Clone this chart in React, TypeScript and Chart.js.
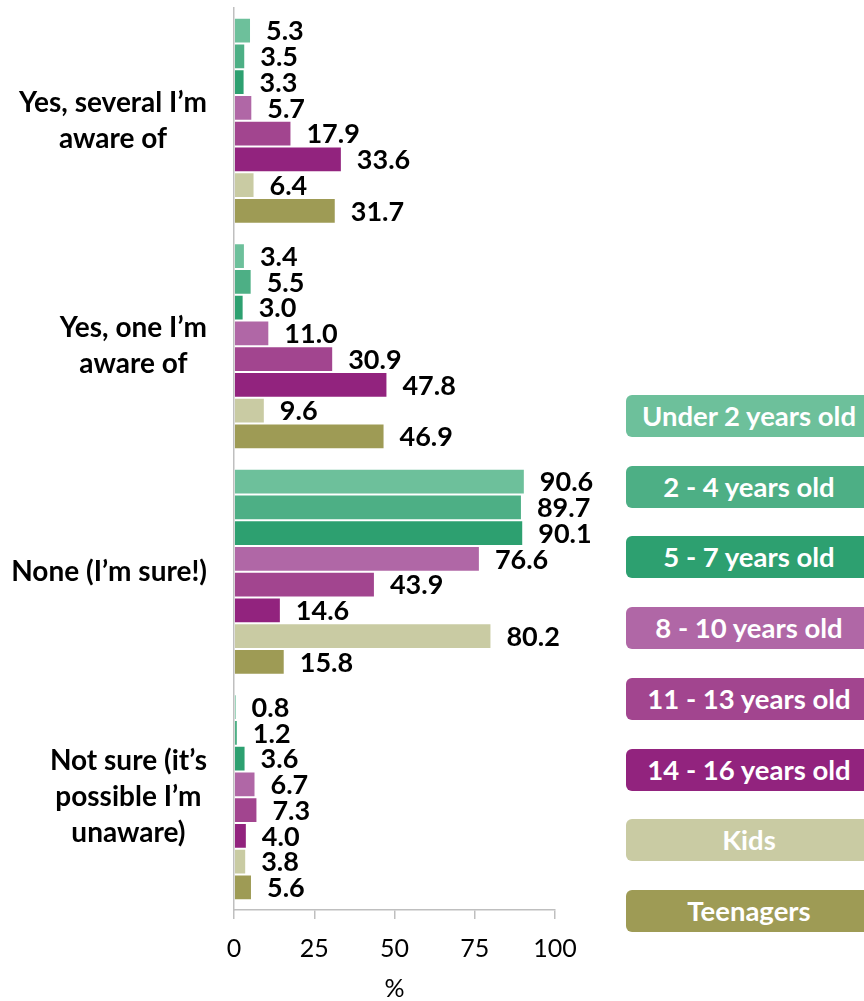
import React, { useEffect, useRef } from "react";
import { Chart, registerables } from "chart.js";

Chart.register(...registerables);

const categories: string[][] = [
  ["Yes, several I\u2019m", "aware of"],
  ["Yes, one I\u2019m", "aware of"],
  ["None (I\u2019m sure!)"],
  ["Not sure (it\u2019s", "possible I\u2019m", "unaware)"],
];

const seriesNames = [
  "Under 2 years old",
  "2 - 4 years old",
  "5 - 7 years old",
  "8 - 10 years old",
  "11 - 13 years old",
  "14 - 16 years old",
  "Kids",
  "Teenagers",
];

const under2 = [5.3, 3.4, 90.6, 0.8];
const age2to4 = [3.5, 5.5, 89.7, 1.2];
const age5to7 = [3.3, 3.0, 90.1, 3.6];
const age8to10 = [5.7, 11.0, 76.6, 6.7];
const age11to13 = [17.9, 30.9, 43.9, 7.3];
const age14to16 = [33.6, 47.8, 14.6, 4.0];
const kids = [6.4, 9.6, 80.2, 3.8];
const teenagers = [31.7, 46.9, 15.8, 5.6];

const seriesValues = [under2, age2to4, age5to7, age8to10, age11to13, age14to16, kids, teenagers];

const colors = ["#6DC09B", "#4DAF85", "#2DA070", "#B067A6", "#A2458F", "#92237E", "#C9CBA3", "#9E9B55"];

const xTicks = [0, 25, 50, 75, 100];
const axisTitle = "%";

const FONT = "Lato, 'Open Sans', sans-serif";

export default function App() {
  const canvasRef = useRef<HTMLCanvasElement | null>(null);

  useEffect(() => {
    document.body.style.margin = "0";
    const canvas = canvasRef.current;
    if (!canvas) return;

    const valueLabels = {
      id: "valueLabels",
      afterDatasetsDraw(chart: any) {
        const ctx = chart.ctx;
        ctx.save();
        ctx.font = `bold 27px ${FONT}`;
        ctx.fillStyle = "#000";
        ctx.textAlign = "left";
        ctx.textBaseline = "middle";
        chart.data.datasets.forEach((ds: any, di: number) => {
          const meta = chart.getDatasetMeta(di);
          meta.data.forEach((el: any, i: number) => {
            ctx.fillText(Number(ds.data[i]).toFixed(1), el.x + 15, el.y + 1);
          });
        });
        ctx.restore();
      },
    };

    const catLabels = {
      id: "catLabels",
      afterDraw(chart: any) {
        const ctx = chart.ctx;
        const yScale = chart.scales.y;
        ctx.save();
        ctx.font = `bold 28px ${FONT}`;
        ctx.fillStyle = "#000";
        ctx.textAlign = "center";
        ctx.textBaseline = "middle";
        const right = 207;
        const lh = 36;
        categories.forEach((lines, i) => {
          const cy = yScale.getPixelForValue(i);
          const w = Math.max(...lines.map((l) => ctx.measureText(l).width));
          const cx = right - w / 2;
          const y0 = cy - ((lines.length - 1) * lh) / 2;
          lines.forEach((l, k) => ctx.fillText(l, cx, y0 + k * lh));
        });
        ctx.restore();
      },
    };

    const chart = new Chart(canvas, {
      type: "bar",
      data: {
        labels: categories.map((c) => c.join(" ")),
        datasets: seriesNames.map((name, i) => ({
          label: name,
          data: seriesValues[i],
          backgroundColor: colors[i],
          borderColor: "rgba(255,255,255,0.45)",
          borderWidth: 1,
          barPercentage: 1,
          categoryPercentage: 0.913,
        })),
      },
      options: {
        indexAxis: "y",
        responsive: false,
        animation: false,
        layout: { padding: { left: 0, right: 45, top: 8, bottom: 0 } },
        plugins: {
          legend: { display: false },
          tooltip: { enabled: false },
        },
        scales: {
          y: {
            type: "category",
            grid: { display: false },
            border: { display: true, color: "#bfbfbf", width: 1.5 },
            ticks: { display: false },
            afterFit: (s: any) => {
              s.width = 234;
            },
          },
          x: {
            min: 0,
            max: 100,
            afterBuildTicks: (s: any) => {
              s.ticks = xTicks.map((v) => ({ value: v }));
            },
            grid: {
              drawOnChartArea: false,
              drawTicks: true,
              tickLength: 9,
              color: "#bfbfbf",
              lineWidth: 1.5,
            },
            border: { display: true, color: "#bfbfbf", width: 1.5 },
            ticks: {
              color: "#000",
              font: { family: FONT, size: 25 },
              padding: 15,
              maxRotation: 0,
            },
            title: {
              display: true,
              text: axisTitle,
              color: "#000",
              font: { family: FONT, size: 25, lineHeight: 1.0 },
              padding: { top: 0, bottom: 0 },
            },
            afterFit: (s: any) => {
              s.height = 91;
            },
          },
        },
      },
      plugins: [valueLabels, catLabels],
    } as any);

    return () => chart.destroy();
  }, []);

  const legendTop = 395;
  const legendStep = 70.7;

  return (
    <div style={{ position: "relative", width: 864, height: 1001, overflow: "hidden", background: "#fff" }}>
      <canvas ref={canvasRef} width={600} height={1001} style={{ position: "absolute", left: 0, top: 0 }} />
      {seriesNames.map((name, i) => (
        <div
          key={name}
          style={{
            position: "absolute",
            left: 626,
            top: legendTop + i * legendStep,
            width: 246,
            height: 42,
            borderRadius: 6,
            background: colors[i],
            color: "#fff",
            fontFamily: FONT,
            fontWeight: 700,
            fontSize: 27.5,
            lineHeight: "42px",
            textAlign: "center",
            whiteSpace: "nowrap",
          }}
        >
          {name}
        </div>
      ))}
    </div>
  );
}
